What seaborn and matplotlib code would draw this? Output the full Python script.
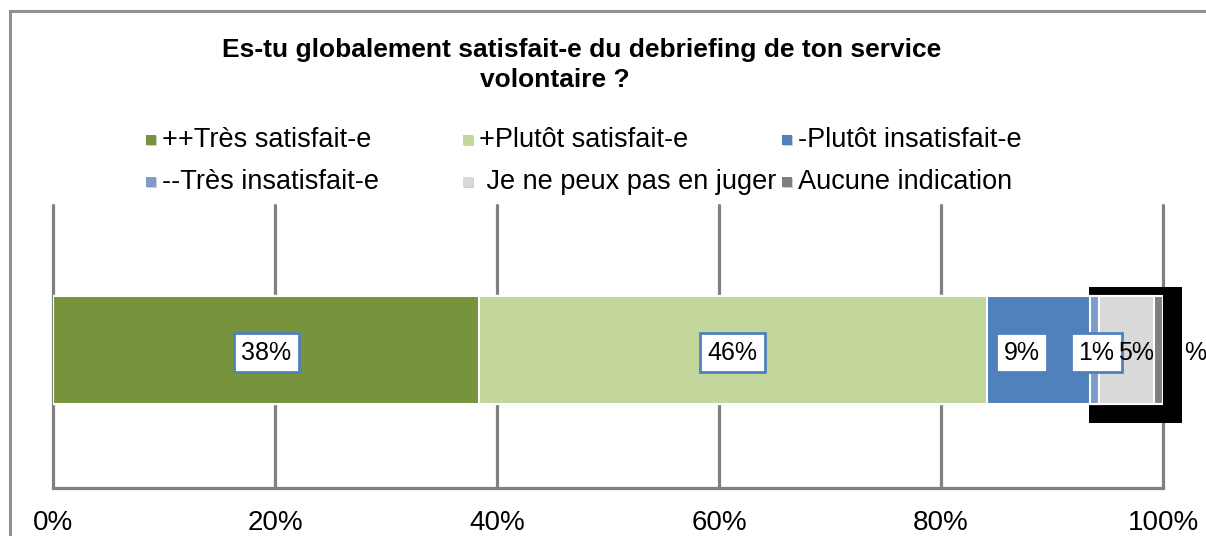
import matplotlib
matplotlib.use("Agg")
import matplotlib.pyplot as plt
from matplotlib.patches import Rectangle
import numpy as np
import pandas as pd
import seaborn as sns

# data
categories = ["++Très satisfait-e", "+Plutôt satisfait-e", "-Plutôt insatisfait-e",
              "--Très insatisfait-e", " Je ne peux pas en juger", "Aucune indication"]
values = [38.4, 45.7, 9.3, 0.8, 5.0, 0.8]
labels = ["38%", "46%", "9%", "1%", "5%", "%"]
colors = ["#77933C", "#C3D69B", "#4F81BD", "#7F9BCB", "#D9D9D9", "#7F7F7F"]
ticks = [0, 20, 40, 60, 80, 100]
tick_labels = ["0%", "20%", "40%", "60%", "80%", "100%"]

title1 = "Es-tu globalement satisfait-e du debriefing de ton service"
title2 = "volontaire ?"

sns.set_theme(style="white")
plt.rcParams['font.family'] = ['Liberation Sans', 'DejaVu Sans']
plt.rcParams['text.color'] = 'black'

W, H = 1206, 536
fig = plt.figure(figsize=(W / 100, H / 100), dpi=100)
ax = fig.add_axes([53 / W, 1 - 488 / H, 1110 / W, 283 / H])

cum = np.cumsum(values)
df = pd.DataFrame({"q": [""] * len(values), "cum": cum, "cat": categories})

# stacked bars: draw cumulative widths from the longest down
for i in range(len(values) - 1, -1, -1):
    sns.barplot(data=df.iloc[[i]], x="cum", y="q", color=colors[i], width=0.38,
                saturation=1, edgecolor="white", linewidth=1.5, orient="h",
                ax=ax, zorder=3)

# dark artefact behind the small segments
ax.add_patch(Rectangle((93.3, -0.222), 8.4, 0.48, facecolor="black",
                       edgecolor="none", zorder=2, clip_on=False))

ax.set_xlim(0, 100)
ax.set_ylim(0.488, -0.512)
for t in ticks:
    ax.axvline(t, color="#808080", lw=2.3, zorder=1, clip_on=False)
ax.set_xticks(ticks)
ax.set_xticklabels(tick_labels, fontsize=20, color="black")
ax.tick_params(axis="x", length=0, pad=16)
ax.set_yticks([])
ax.set_xlabel("")
ax.set_ylabel("")
for s in ["top", "right", "left"]:
    ax.spines[s].set_visible(False)
ax.spines["bottom"].set_color("#808080")
ax.spines["bottom"].set_linewidth(2.3)

# value labels
offsets = [0, 0, -1.5, 0.2, 0.9, 3.3]
boxed = [True, True, True, True, False, False]
starts = cum - np.array(values)
for i, lab in enumerate(labels):
    xc = starts[i] + values[i] / 2 + offsets[i]
    bbox = dict(boxstyle="square,pad=0.3", fc="white", ec="#4F81BD", lw=2) if boxed[i] else None
    ax.text(xc, 0.01, lab, ha="center", va="center", fontsize=18, color="black",
            bbox=bbox, zorder=5, clip_on=False)

# outer frame
fig.patches.append(Rectangle((10 / W, -0.2), 2, 1.2 - 11 / H, transform=fig.transFigure,
                             fill=False, edgecolor="#909090", lw=2.2))

# title
fig.text(582 / W, 1 - 50 / H, title1, ha="center", va="center", fontsize=19,
         fontweight="bold", color="black")
fig.text(555 / W, 1 - 80 / H, title2, ha="center", va="center", fontsize=19,
         fontweight="bold", color="black")

# legend, equal column widths like the original
col_x = [146, 463, 782]
row_y = [140, 182]
for i, cat in enumerate(categories):
    cx = col_x[i % 3]
    cy = row_y[i // 3]
    fig.patches.append(Rectangle(((cx + 1) / W, 1 - (cy + 6) / H), 10 / W, 10 / H,
                                 transform=fig.transFigure, facecolor="#D0D0D0", edgecolor="none"))
    fig.patches.append(Rectangle((cx / W, 1 - (cy + 5) / H), 10 / W, 10 / H,
                                 transform=fig.transFigure, facecolor=colors[i], edgecolor="none"))
    fig.text((cx + 16) / W, 1 - cy / H, cat, ha="left", va="center", fontsize=19.5,
             color="black")

fig.savefig("out.png", dpi=100)
